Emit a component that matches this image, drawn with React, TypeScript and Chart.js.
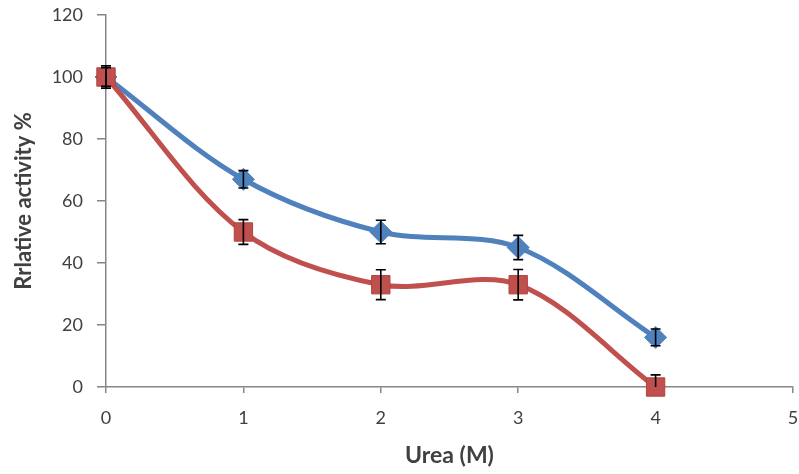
import React, { useEffect, useRef } from "react";
import { Chart, registerables } from "chart.js";

Chart.register(...registerables);

const ureaM = [0, 1, 2, 3, 4];
const blueValues = [100, 67, 50, 45, 16];
const blueErrors = [3, 2.8, 3.8, 3.9, 2.7];
const redValues = [100, 50, 33, 33, 0];
const redErrors = [3.6, 4, 4.8, 4.9, 3.9];
const xTickValues = [0, 1, 2, 3, 4, 5];
const yTickValues = [0, 20, 40, 60, 80, 100, 120];

const FONT = "Lato, 'Open Sans', sans-serif";
const BLUE = "#4F81BD";
const RED = "#C0504D";
const AXIS = "#868686";

const errorBarPlugin = {
  id: "errorBars",
  afterDatasetsDraw(chart: any) {
    const { ctx, chartArea } = chart;
    const yScale = chart.scales.y;
    ctx.save();
    ctx.beginPath();
    ctx.rect(chartArea.left - 20, chartArea.top - 20, chartArea.right - chartArea.left + 40, chartArea.bottom - chartArea.top + 20);
    ctx.clip();
    ctx.strokeStyle = "#000";
    ctx.lineWidth = 1.6;
    chart.data.datasets.forEach((ds: any, di: number) => {
      const meta = chart.getDatasetMeta(di);
      const errs: number[] = ds.errors || [];
      meta.data.forEach((pt: any, i: number) => {
        const v = ds.data[i].y;
        const e = errs[i];
        if (e == null) return;
        const x = pt.x;
        const yTop = yScale.getPixelForValue(v + e);
        const yBot = yScale.getPixelForValue(v - e);
        const cap = 5;
        ctx.beginPath();
        ctx.moveTo(x, yTop);
        ctx.lineTo(x, yBot);
        ctx.moveTo(x - cap, yTop);
        ctx.lineTo(x + cap, yTop);
        ctx.moveTo(x - cap, yBot);
        ctx.lineTo(x + cap, yBot);
        ctx.stroke();
      });
    });
    ctx.restore();
  },
};

export default function App() {
  const ref = useRef<HTMLCanvasElement | null>(null);
  useEffect(() => {
    if (!ref.current) return;
    const chart = new Chart(ref.current, {
      type: "line",
      data: {
        datasets: [
          {
            label: "Red",
            data: ureaM.map((x, i) => ({ x, y: redValues[i] })),
            errors: redErrors,
            borderColor: RED,
            backgroundColor: RED,
            pointBackgroundColor: RED,
            pointBorderColor: "#B04541",
            pointBorderWidth: 1,
            borderWidth: 5,
            pointStyle: "rect",
            pointRadius: 13,
            tension: 0.33,
            clip: false,
          } as any,
          {
            label: "Blue",
            data: ureaM.map((x, i) => ({ x, y: blueValues[i] })),
            errors: blueErrors,
            borderColor: BLUE,
            backgroundColor: BLUE,
            pointBackgroundColor: BLUE,
            pointBorderColor: BLUE,
            pointBorderWidth: 1,
            borderWidth: 5,
            pointStyle: "rectRot",
            pointRadius: 11,
            tension: 0.33,
            clip: false,
          } as any,
        ],
      },
      options: {
        animation: false,
        responsive: false,
        maintainAspectRatio: false,
        layout: { autoPadding: false, padding: { top: 15, right: 6, left: 0, bottom: 0 } },
        plugins: { legend: { display: false }, tooltip: { enabled: false } },
        scales: {
          x: {
            type: "linear",
            min: 0,
            max: 5,
            afterBuildTicks: (s: any) => {
              s.ticks = xTickValues.map((v) => ({ value: v }));
            },
            afterFit: (s: any) => {
              s.height = 87;
              s.paddingLeft = 0;
              s.paddingRight = 0;
            },
            border: { color: AXIS, width: 1.5 },
            grid: { drawOnChartArea: false, drawTicks: true, tickLength: 6, color: AXIS, lineWidth: 1.5 },
            ticks: { color: "#404040", font: { family: FONT, size: 18 }, padding: 14, maxRotation: 0 },
            title: {
              display: true,
              text: "Urea (M)",
              color: "#404040",
              font: { family: FONT, size: 23, weight: "bold" },
              padding: { top: 0, bottom: 5 },
            },
          },
          y: {
            type: "linear",
            min: 0,
            max: 120,
            afterBuildTicks: (s: any) => {
              s.ticks = yTickValues.map((v) => ({ value: v }));
            },
            afterFit: (s: any) => {
              s.width = 106;
              s.paddingTop = 0;
              s.paddingBottom = 0;
            },
            border: { color: AXIS, width: 1.5 },
            grid: { drawOnChartArea: false, drawTicks: true, tickLength: 9, color: AXIS, lineWidth: 1.5 },
            ticks: { color: "#404040", font: { family: FONT, size: 18 }, padding: 14 },
            title: {
              display: true,
              text: "Rrlative activity %",
              color: "#404040",
              font: { family: FONT, size: 22, weight: "bold" },
              padding: { top: 11, bottom: 0 },
            },
          },
        },
      } as any,
      plugins: [errorBarPlugin],
    });
    return () => chart.destroy();
  }, []);
  return (
    <div style={{ position: "absolute", left: 0, top: 0, width: 799, height: 474, background: "#fff" }}>
      <canvas ref={ref} width={799} height={474} style={{ display: "block" }} />
    </div>
  );
}
